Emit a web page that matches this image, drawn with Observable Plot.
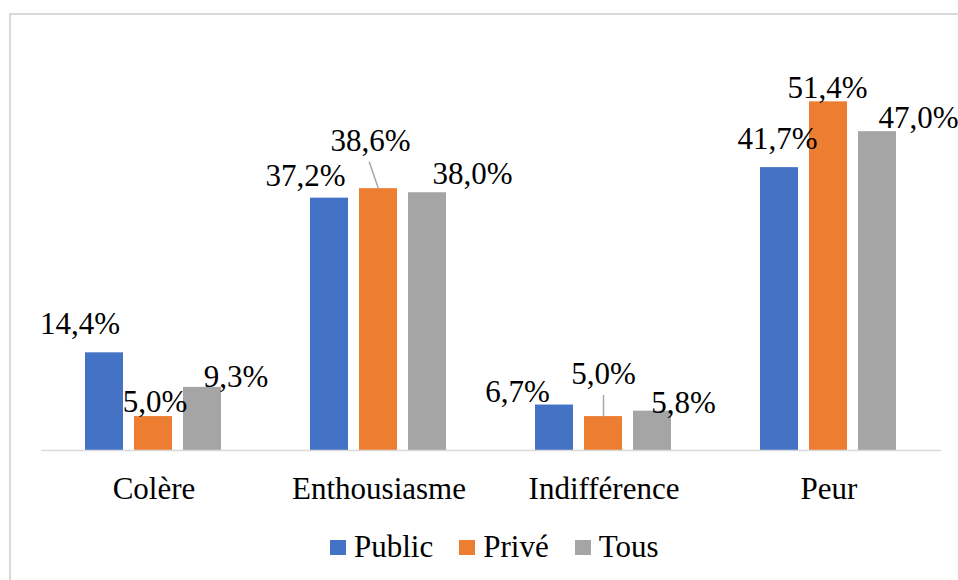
<!DOCTYPE html>
<html>
<head>
<meta charset="utf-8">
<script src="https://cdn.jsdelivr.net/npm/d3@7"></script>
<script src="https://cdn.jsdelivr.net/npm/@observablehq/plot@0.6"></script>
</head>
<body style="margin:0;background:#fff">
<div style="position:absolute;left:9px;top:13px;width:949px;height:567px;border-left:2px solid #d9d9d9;border-top:2px solid #d9d9d9;box-sizing:border-box"></div>
<div id="chart" style="position:absolute;left:0;top:0"></div>
<div id="legend" style="position:absolute;top:531px;left:330px;display:flex;align-items:center;font-size:31px;line-height:31px;color:#000;white-space:nowrap;font-family:'Liberation Serif','Times New Roman',serif"></div>
<script>
// ---- data ----
const categories = ["Colère", "Enthousiasme", "Indifférence", "Peur"];
const series = ["Public", "Privé", "Tous"];
const publicValues = [14.4, 37.2, 6.7, 41.7];
const priveValues = [5.0, 38.6, 5.0, 51.4];
const tousValues = [9.3, 38.0, 5.8, 47.0];

// ---- styling / layout (not data) ----
const colors = ["#4472c4", "#ed7d31", "#a5a5a5"];
const FONT = "'Liberation Serif', 'Times New Roman', serif";
const FONT_SIZE = 31;
// per-label [dx, dy] offsets from the bar top, ordered category x series
const labelOffsets = [
  [-24.5, -19], [1.5, -4.5], [33.5, 0],
  [-24, -11.7], [-8, -38], [45, -9],
  [-37, -2.6], [0, -33], [31, 2.3],
  [-2, -19], [-1, -3.4], [41, -4]
];
// leader lines: [categoryIndex, seriesIndex, length px, rotate deg]
const leaderLines = [[1, 1, 28, -19], [2, 1, 21, 0]];

const valuesBySeries = [publicValues, priveValues, tousValues];
const rows = [];
categories.forEach((c, ci) => {
  series.forEach((s, si) => {
    rows.push({category: c, series: s, value: valuesBySeries[si][ci]});
  });
});
const fmt = v => v.toFixed(1).replace(".", ",") + "%";

const labelMarks = rows.map((r, i) => Plot.text([r], {
  fx: "category", x: "series", y: "value",
  text: d => fmt(d.value),
  dx: labelOffsets[i][0], dy: labelOffsets[i][1],
  lineAnchor: "bottom", textAnchor: "middle", fill: "#000",
  fontFamily: FONT, fontSize: FONT_SIZE
}));

const lineShape = {draw(context, l) { context.moveTo(0, 0); context.lineTo(0, -l); }};
const leaderMarks = leaderLines.map(([ci, si, len, rot]) => Plot.vector(
  rows.filter(r => r.category === categories[ci] && r.series === series[si]), {
    fx: "category", x: "series", y: "value",
    length: len, rotate: rot, anchor: "start", shape: lineShape,
    stroke: "#a6a6a6", strokeWidth: 1.5, fill: "none"
  }));

const chart = Plot.plot({
  width: 958,
  height: 520,
  marginLeft: 40,
  marginRight: 17,
  marginTop: 43,
  marginBottom: 70,
  style: {fontFamily: FONT, fontSize: FONT_SIZE + "px", color: "#000", background: "transparent", overflow: "visible"},
  fx: {domain: categories, padding: 0, label: null, axis: "bottom", tickSize: 0, tickPadding: 26},
  x: {domain: series, paddingInner: 0.22, paddingOuter: 0.8625, axis: null},
  y: {domain: [0, 60], axis: null},
  color: {domain: series, range: colors},
  marks: [
    Plot.barY(rows, {fx: "category", x: "series", y: "value", fill: "series"}),
    Plot.ruleY([0], {stroke: "#d9d9d9", strokeWidth: 1.5}),
    ...leaderMarks,
    ...labelMarks
  ]
});
chart.querySelectorAll("text").forEach(t => t.setAttribute("font-family", FONT));
document.getElementById("chart").appendChild(chart);

const legend = document.getElementById("legend");
series.forEach((s, i) => {
  const item = document.createElement("div");
  item.setAttribute("style", "display:flex;align-items:center;margin-right:26px");
  const sw = document.createElement("span");
  sw.setAttribute("style", `display:inline-block;width:16px;height:15px;margin-right:8px;position:relative;top:1px;background:${colors[i]}`);
  const t = document.createElement("span");
  t.textContent = s;
  item.appendChild(sw);
  item.appendChild(t);
  legend.appendChild(item);
});
</script>
</body>
</html>
